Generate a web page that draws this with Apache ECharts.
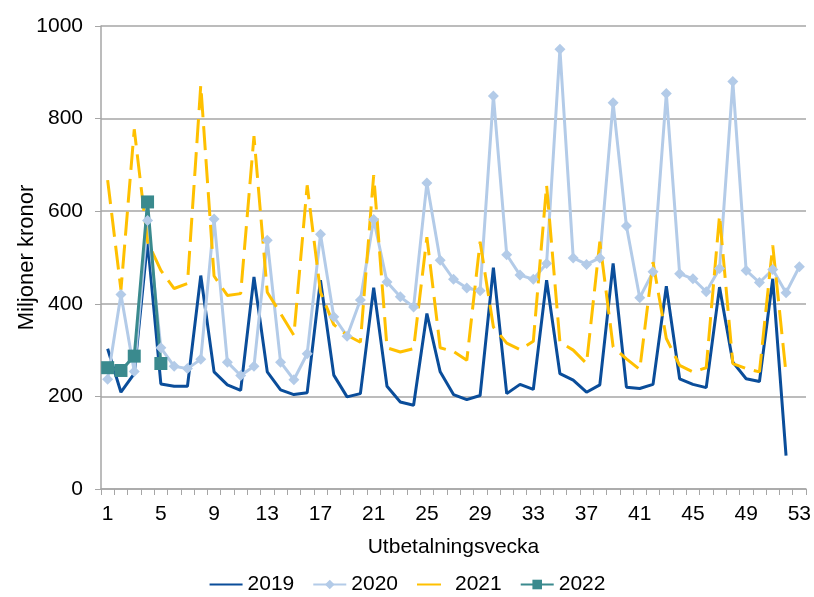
<!DOCTYPE html>
<html><head><meta charset="utf-8">
<script src="https://cdn.jsdelivr.net/npm/echarts@6/dist/echarts.min.js"></script>
<style>html,body{margin:0;padding:0;background:#fff}#c{width:814px;height:597px}</style>
</head><body><div id="c"></div>
<script>
var weeks = [];
for (var i = 1; i <= 53; i++) weeks.push(String(i));
var s2019 = [303,209,249,535,227,222,222,461,253,225,213,458,253,214,204,208,451,246,199,206,435,222,188,181,379,253,204,193,202,478,206,226,215,451,249,235,209,225,487,220,217,226,438,238,226,219,436,274,238,232,454,72];
var s2020 = [237,420,254,580,305,265,260,280,583,274,245,265,537,274,236,292,550,372,330,408,582,447,415,393,661,494,453,434,428,849,506,462,453,487,950,499,485,499,834,568,413,469,854,465,454,426,476,880,472,446,474,424,480];
var s2021 = [667,430,777,534,472,433,444,872,460,418,422,762,425,379,332,656,425,355,332,317,678,305,296,303,544,305,297,278,534,350,315,301,319,656,317,300,271,534,307,281,258,490,325,267,253,262,591,271,260,253,526,249];
var s2022 = [262,256,287,620,271];
var yTicks = [0,200,400,600,800,1000];

var font = 'Liberation Sans, Arial, sans-serif';
var hidden = {opacity: 0, color: 'rgba(0,0,0,0)', borderWidth: 0};
var chart = echarts.init(document.getElementById('c'));
chart.setOption({
  animation: false,
  grid: {left: 101, right: 8, top: 26, bottom: 108, containLabel: false, outerBoundsMode: 'none'},
  legend: {
    bottom: -3, left: 'center', itemWidth: 33, itemHeight: 12, itemGap: 18,
    textStyle: {fontFamily: font, fontSize: 21, color: '#000'},
    data: [{name: '2019', itemStyle: hidden}, {name: '2020'}, {name: '2021', itemStyle: hidden}, {name: '2022'}]
  },
  xAxis: {
    type: 'category', data: weeks, boundaryGap: true,
    name: 'Utbetalningsvecka', nameLocation: 'middle', nameGap: 48, nameMoveOverlap: false,
    nameTextStyle: {fontFamily: font, fontSize: 21, color: '#000'},
    axisLine: {lineStyle: {color: '#a6a6a6', width: 1.5}},
    axisTick: {show: true, interval: 0, length: 6, lineStyle: {color: '#a6a6a6'}},
    axisLabel: {interval: 3, margin: 15, fontFamily: font, fontSize: 21, color: '#000'}
  },
  yAxis: {
    type: 'value', min: yTicks[0], max: yTicks[yTicks.length-1], interval: 200,
    name: 'Miljoner kronor', nameLocation: 'middle', nameGap: 63, nameMoveOverlap: false,
    nameTextStyle: {fontFamily: font, fontSize: 22, color: '#000'},
    axisLine: {show: true, lineStyle: {color: '#a6a6a6', width: 1.5}},
    axisTick: {show: true, length: 6, lineStyle: {color: '#a6a6a6'}},
    axisLabel: {margin: 18, fontFamily: font, fontSize: 21, color: '#000', formatter: function (v) { return String(v); }},
    splitLine: {lineStyle: {color: '#a6a6a6', width: 1.5}}
  },
  series: [
    {name: '2019', type: 'line', data: s2019, symbol: 'none',
     lineStyle: {color: '#0a4d9a', width: 3}, itemStyle: {color: '#0a4d9a'}},
    {name: '2020', type: 'line', data: s2020, symbol: 'diamond', symbolSize: 11, showAllSymbol: true,
     lineStyle: {color: '#b3cbe8', width: 3}, itemStyle: {color: '#b3cbe8'}},
    {name: '2021', type: 'line', data: s2021, symbol: 'none',
     lineStyle: {color: '#ffc000', width: 3, type: [24, 9]}, itemStyle: {color: '#ffc000'}},
    {name: '2022', type: 'line', data: s2022, symbol: 'rect', symbolSize: 13, showAllSymbol: true,
     lineStyle: {color: '#3a8a8e', width: 3}, itemStyle: {color: '#3a8a8e'}}
  ]
});
</script></body></html>
